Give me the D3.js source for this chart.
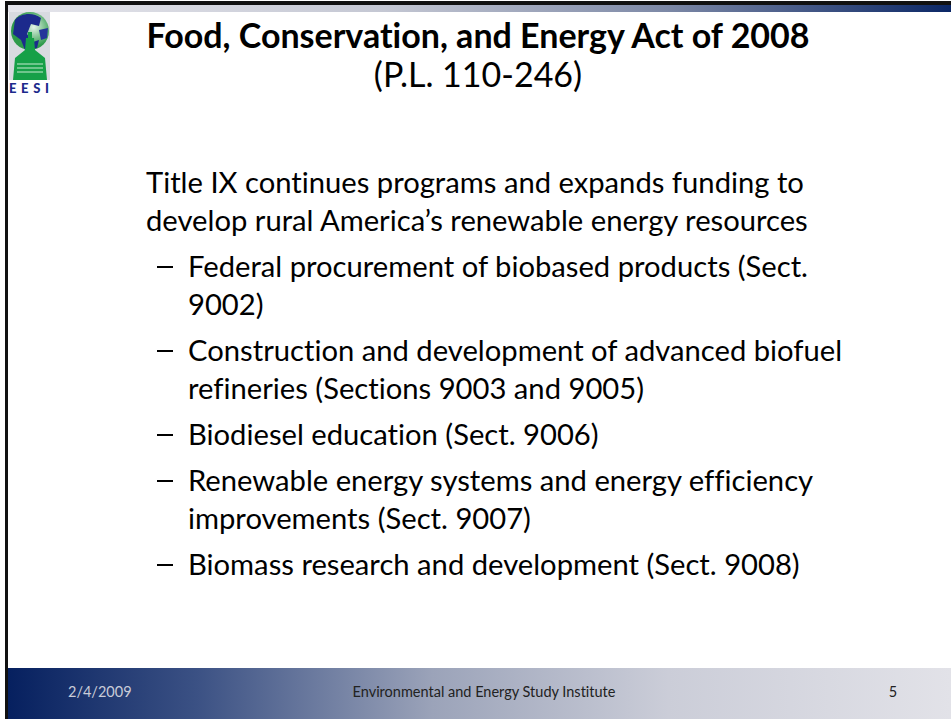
<!DOCTYPE html>
<meta charset="utf-8">
<title>Food, Conservation, and Energy Act of 2008</title>
<style>
body { margin: 0; background: #fff; }
text { font-family: Lato, "Open Sans", sans-serif; font-variant-ligatures: none; }
</style>
<svg width="951" height="719"></svg>
<script src="https://d3js.org/d3.v7.min.js"></script>
<script>

var titleLines = ["Food, Conservation, and Energy Act of 2008", "(P.L. 110-246)"];
var introLines = ["Title IX continues programs and expands funding to",
                  "develop rural America\u2019s renewable energy resources"];
var bullets = [
  ["Federal procurement of biobased products (Sect.", "9002)"],
  ["Construction and development of advanced biofuel", "refineries (Sections 9003 and 9005)"],
  ["Biodiesel education (Sect. 9006)"],
  ["Renewable energy systems and energy efficiency", "improvements (Sect. 9007)"],
  ["Biomass research and development (Sect. 9008)"]
];
var footer = ["2/4/2009", "Environmental and Energy Study Institute", "5"];

var svg = d3.select("svg"),
    width = +svg.attr("width"),
    height = +svg.attr("height");

var defs = svg.append("defs");
var topGrad = defs.append("linearGradient").attr("id", "topGrad");
topGrad.selectAll("stop")
  .data([[0, "#e6e6ec"], [0.4, "#c4c7d3"], [0.7, "#7c88a6"], [1, "#0b2766"]])
  .enter().append("stop")
  .attr("offset", function(d) { return d[0]; })
  .attr("stop-color", function(d) { return d[1]; });
var footGrad = defs.append("linearGradient").attr("id", "footGrad");
footGrad.selectAll("stop")
  .data([[0, "#06205f"], [0.2, "#3b5184"], [0.45, "#9ba3b9"], [0.7, "#cbcdd8"], [1, "#e2e2e8"]])
  .enter().append("stop")
  .attr("offset", function(d) { return d[0]; })
  .attr("stop-color", function(d) { return d[1]; });
var globeGrad = defs.append("radialGradient").attr("id", "globeGrad")
  .attr("cx", 0.6).attr("cy", 0.4);
globeGrad.append("stop").attr("offset", 0).attr("stop-color", "#e4f4e8");
globeGrad.append("stop").attr("offset", 1).attr("stop-color", "#2e9a4a");

// frame
svg.append("rect").attr("x", 5).attr("y", 1).attr("width", width - 5).attr("height", 4).attr("fill", "#111");
svg.append("rect").attr("x", 8).attr("y", 5).attr("width", width - 8).attr("height", 7).attr("fill", "url(#topGrad)");
svg.append("rect").attr("x", 5).attr("y", 1).attr("width", 3).attr("height", height).attr("fill", "#111");
svg.append("rect").attr("x", 8).attr("y", 668).attr("width", width - 8).attr("height", height - 668).attr("fill", "url(#footGrad)");

// logo
var logo = svg.append("g").attr("transform", "translate(9,12)");
logo.append("rect").attr("width", 41).attr("height", 68).attr("fill", "#d8dae0");
logo.append("circle").attr("cx", 21).attr("cy", 19).attr("r", 19).attr("fill", "url(#globeGrad)");
logo.append("path").attr("d", "M6,8 C12,1 24,0 32,6 L30,14 L22,12 L18,22 L24,30 L30,28 L28,36 L16,38 L12,28 L4,22 Z").attr("fill", "#1c2a8c");
logo.append("path").attr("d", "M30,18 L39,16 L38,26 L32,28 Z").attr("fill", "#24349a");
logo.append("path").attr("d", "M17,26 L25,26 L26,38 L36,46 L38,68 L4,68 L6,46 L16,38 Z").attr("fill", "#16a048");
logo.append("rect").attr("x", 19).attr("y", 20).attr("width", 4).attr("height", 8).attr("fill", "#16a048");
logo.selectAll("line.step").data([52, 56, 60]).enter().append("line")
  .attr("x1", 8).attr("x2", 34).attr("y1", function(d) { return d; }).attr("y2", function(d) { return d; })
  .attr("stroke", "#c6ead0").attr("stroke-width", 1);
logo.append("text").attr("x", 0).attr("y", 81)
  .attr("font-size", 13).attr("font-weight", "900").attr("fill", "#1c2a8c")
  .attr("textLength", 40).attr("lengthAdjust", "spacing").text("EESI");

// title
svg.append("text").attr("x", 478).attr("y", 48).attr("text-anchor", "middle")
  .attr("font-size", 34).attr("font-weight", "bold").attr("fill", "#000").text(titleLines[0]);
svg.append("text").attr("x", 478).attr("y", 87).attr("text-anchor", "middle")
  .attr("font-size", 34).attr("fill", "#000").text(titleLines[1]);

// body
var body = svg.append("g").attr("font-size", 29.2).attr("fill", "#000");
var rows = [];
var y = 193;
introLines.forEach(function(t, i) { rows.push({ text: t, x: 146, y: y, dash: false }); y += 37.5; });
y += 9;
bullets.forEach(function(b) {
  b.forEach(function(t, i) { rows.push({ text: t, x: 188, y: y, dash: i === 0 }); y += 38; });
  y += 8;
});
body.selectAll("text.line").data(rows).enter().append("text")
  .attr("class", "line")
  .attr("x", function(d) { return d.x; })
  .attr("y", function(d) { return d.y; })
  .text(function(d) { return d.text; });
// bullet dashes (Calibri en dash is wider than Lato's)
body.selectAll("line.dash").data(rows.filter(function(d) { return d.dash; })).enter().append("line")
  .attr("class", "dash")
  .attr("x1", 157).attr("x2", 173)
  .attr("y1", function(d) { return d.y - 10; })
  .attr("y2", function(d) { return d.y - 10; })
  .attr("stroke", "#000").attr("stroke-width", 2);

// footer
var fx = [68, 484, 893], fa = ["start", "middle", "middle"], fc = ["#c9ccd8", "#222", "#222"];
svg.selectAll("text.foot").data(footer).enter().append("text")
  .attr("class", "foot")
  .attr("x", function(d, i) { return fx[i]; })
  .attr("y", 697)
  .attr("text-anchor", function(d, i) { return fa[i]; })
  .attr("font-size", 14.5)
  .attr("fill", function(d, i) { return fc[i]; })
  .text(function(d) { return d; });

</script>
